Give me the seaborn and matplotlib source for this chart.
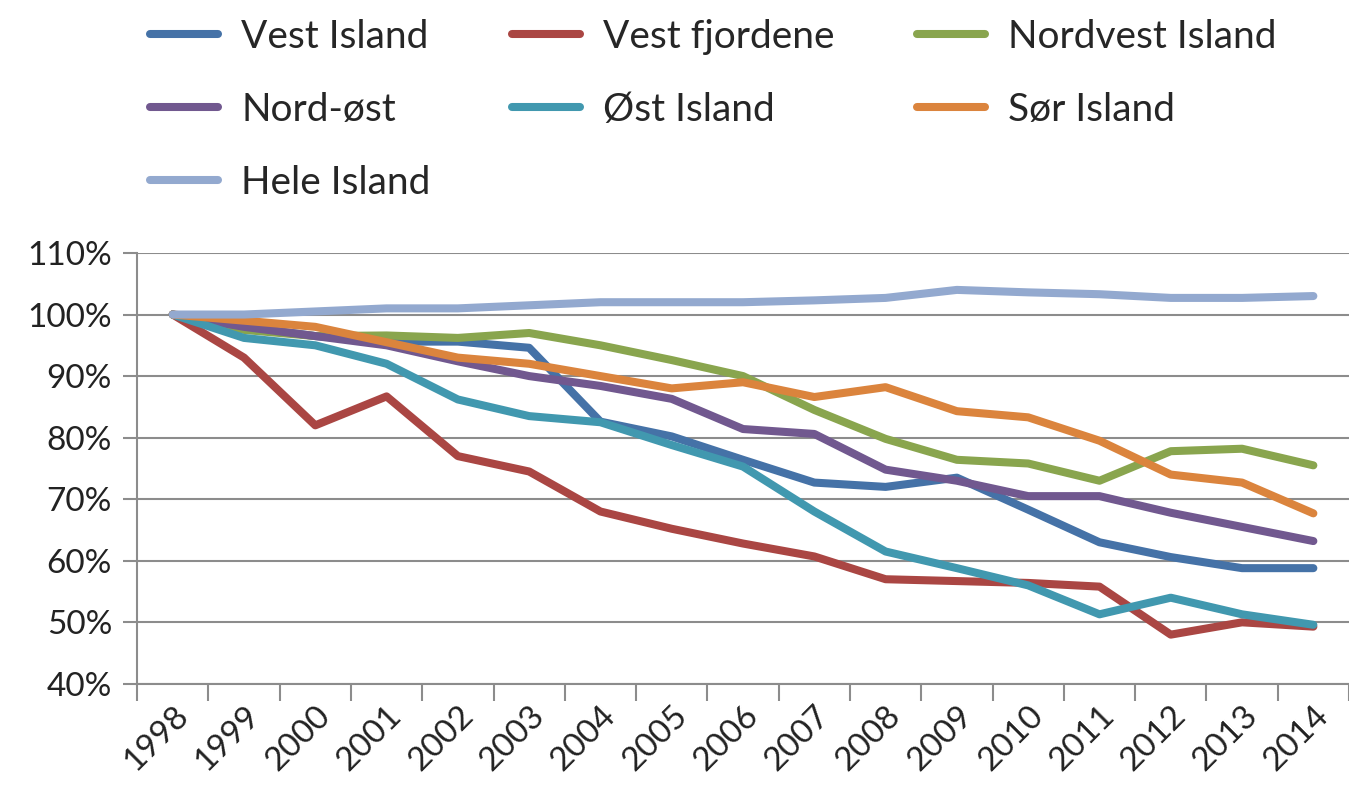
"""Befolkningsutvikling per region på Island, 1998-2014 (indeks, 1998 = 100 %)."""

import matplotlib.pyplot as plt
import numpy as np
import pandas as pd
import seaborn as sns
from matplotlib.ticker import PercentFormatter

years = list(range(1998, 2015))

vest_island = [100, 98.0, 96.5, 95.6, 95.6, 94.6, 82.6, 80.2, 76.4, 72.7, 72.0, 73.5, 68.3, 63.0, 60.6, 58.8, 58.8]
vest_fjordene = [100, 93.0, 82.0, 86.7, 77.0, 74.5, 68.0, 65.2, 62.8, 60.7, 57.0, 56.7, 56.4, 55.8, 48.0, 50.0, 49.3]
nordvest_island = [100, 97.5, 96.5, 96.6, 96.2, 97.0, 95.0, 92.6, 90.0, 84.5, 79.8, 76.4, 75.8, 73.0, 77.8, 78.2, 75.5]
nord_ost = [100, 98.0, 96.5, 95.0, 92.4, 90.0, 88.4, 86.3, 81.4, 80.6, 74.8, 73.0, 70.5, 70.5, 67.8, 65.5, 63.2]
ost_island = [100, 96.2, 95.0, 92.0, 86.2, 83.5, 82.5, 78.8, 75.3, 68.0, 61.5, 58.8, 56.0, 51.3, 54.0, 51.3, 49.6]
sor_island = [100, 99.0, 98.0, 95.5, 93.0, 92.0, 90.0, 88.0, 89.0, 86.6, 88.2, 84.3, 83.3, 79.5, 74.0, 72.7, 67.7]
hele_island = [100, 100.0, 100.5, 101.0, 101.0, 101.5, 102.0, 102.0, 102.0, 102.3, 102.7, 104.0, 103.6, 103.3, 102.7, 102.7, 103.0]

regions = ["Vest Island", "Vest fjordene", "Nordvest Island", "Nord-øst", "Øst Island", "Sør Island", "Hele Island"]
series = [vest_island, vest_fjordene, nordvest_island, nord_ost, ost_island, sor_island, hele_island]
colors = ["#4572A7", "#AA4643", "#89A54E", "#71588F", "#4198AF", "#DB843D", "#93A9CF"]

data = pd.concat(
    [pd.DataFrame({"year": years, "value": values, "region": name}) for name, values in zip(regions, series)],
    ignore_index=True,
)

sns.set_style("white")
plt.rcParams["font.family"] = ["Lato", "DejaVu Sans"]

fig = plt.figure(figsize=(13.49, 7.98), dpi=100)
ax = fig.add_axes([0.1016, 0.143, 0.8984, 0.54])

sns.lineplot(
    data=data,
    x="year",
    y="value",
    hue="region",
    hue_order=regions,
    palette=dict(zip(regions, colors)),
    linewidth=5.8,
    ax=ax,
)
for line in ax.lines:
    line.set_solid_capstyle("round")
    line.set_solid_joinstyle("round")

handles, labels = ax.get_legend_handles_labels()
ax.get_legend().remove()
for h in handles:
    h.set_linewidth(5.8)

# column-wise fill so the rows read like the original
order = [0, 3, 6, 1, 4, 2, 5]
fig.legend(
    [handles[i] for i in order],
    [labels[i] for i in order],
    loc="upper left",
    bbox_to_anchor=(0.085, 1.02),
    ncol=3,
    frameon=False,
    fontsize=28,
    handlelength=1.75,
    handletextpad=0.6,
    columnspacing=2.1,
    labelspacing=0.95,
)

grid_color = "#8c8c8c"
ax.set_ylim(40, 110)
ax.set_yticks(np.arange(40, 111, 10))
ax.yaxis.set_major_formatter(PercentFormatter(decimals=0))
ax.yaxis.grid(True, color=grid_color, linewidth=1.5)
ax.set_axisbelow(True)

ax.set_xlim(1997.5, 2014.36)
ax.set_xticks(years)
ax.set_xticklabels([str(y) for y in years], rotation=45, ha="right", rotation_mode="anchor")
ax.set_xticks(np.arange(1997.5, 2014.6, 1), minor=True)

ax.tick_params(axis="y", which="major", left=True, length=10, width=1.5, color=grid_color,
               labelsize=24, labelcolor="#222222", pad=8)
ax.tick_params(axis="x", which="major", length=0, labelsize=24, labelcolor="#222222", pad=12)
ax.tick_params(axis="x", which="minor", bottom=True, length=12, width=1.5, color=grid_color)

for side in ["top", "right"]:
    ax.spines[side].set_visible(False)
for side in ["left", "bottom"]:
    ax.spines[side].set_color(grid_color)
    ax.spines[side].set_linewidth(1.5)

ax.set_xlabel("")
ax.set_ylabel("")

fig.savefig("out.png", dpi=100)
